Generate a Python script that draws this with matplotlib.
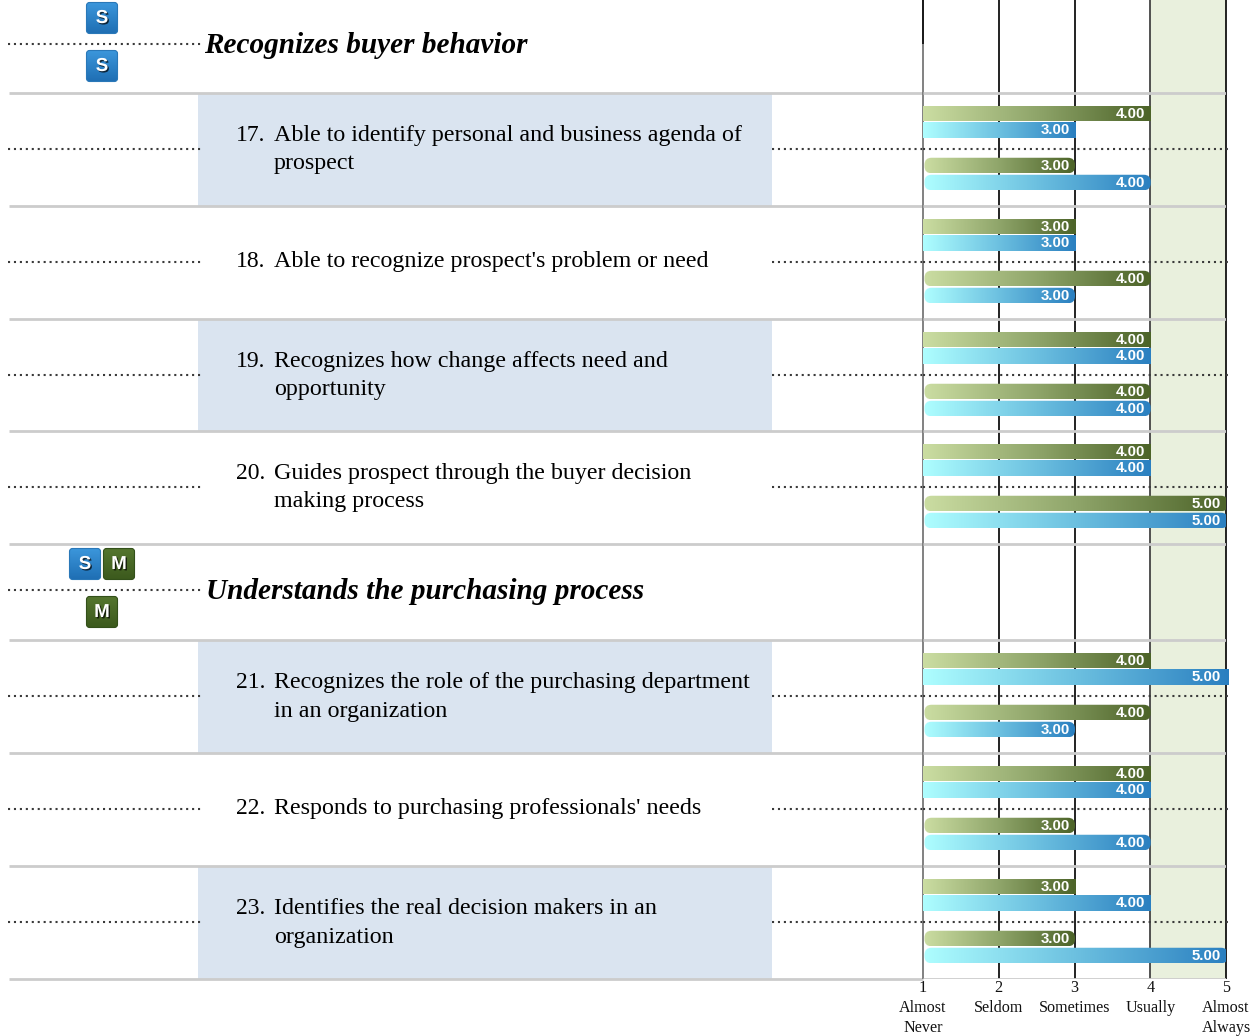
import numpy as np
import matplotlib
matplotlib.use('Agg')
from matplotlib import pyplot as plt
from matplotlib.colors import LinearSegmentedColormap
from matplotlib.patches import FancyBboxPatch, Rectangle
import matplotlib.patheffects as pe

# Data
questions = [
    "Able to identify personal and business agenda of\nprospect",
    "Able to recognize prospect's problem or need",
    "Recognizes how change affects need and\nopportunity",
    "Guides prospect through the buyer decision\nmaking process",
    "Recognizes the role of the purchasing department\nin an organization",
    "Responds to purchasing professionals' needs",
    "Identifies the real decision makers in an\norganization",
]
numbers = [17, 18, 19, 20, 21, 22, 23]
top_green = [4, 3, 4, 4, 4, 4, 3]
top_blue = [3, 3, 4, 4, 5, 4, 4]
bottom_green = [3, 4, 4, 5, 4, 3, 3]
bottom_blue = [4, 3, 4, 5, 3, 4, 5]
headers = ["Recognizes buyer behavior", "Understands the purchasing process"]
header_badges_top = [["S"], ["S", "M"]]
header_badges_bottom = [["S"], ["M"]]
tick_values = [1, 2, 3, 4, 5]
tick_labels = ["1\nAlmost\nNever", "2\nSeldom\n ", "3\nSometimes\n ", "4\nUsually\n ", "5\nAlmost\nAlways"]

W, H = 1260, 1036
SERIF = 'Liberation Serif'
fig = plt.figure(figsize=(W / 100, H / 100), dpi=100)

# pixel axes for the table part
ax = fig.add_axes([0, 0, 1, 1])
ax.set_xlim(0, W)
ax.set_ylim(H, 0)
ax.axis('off')

# score axes, x is the 1-5 scale, y stays in pixels
LEFT, RIGHT, BOTTOM = 923, 1226, 979
bx = fig.add_axes([LEFT / W, (H - BOTTOM) / H, (RIGHT - LEFT) / W, BOTTOM / H])
bx.patch.set_alpha(0)
unit = (RIGHT - LEFT) / 4.0

green_cmap = LinearSegmentedColormap.from_list('g', ['#cbdda2', '#8fa56a', '#4c6328'])
blue_cmap = LinearSegmentedColormap.from_list('b', ['#aefeff', '#6cc0e0', '#2a7fc0'])
grad = np.linspace(0, 1, 256).reshape(1, -1)

bx.axvspan(4, 5, color='#e9f0dd', zorder=0, lw=0)
for v in tick_values:
    c = '#777777' if v == 1 else ('#444444' if v == 4 else '#111111')
    bx.vlines(v, 0, BOTTOM, color=c, lw=1.3, zorder=1, clip_on=False)
bx.vlines(1, 0, 44, color='#111111', lw=1.3, zorder=1, clip_on=False)


def draw_bar(value, yc, cmap, rounded):
    h = 15.5
    x0 = 1.0 + (1.5 / unit if rounded else 0)
    x1 = value + ((2.0 if value == 5 else 0.5) / unit)
    im = bx.imshow(grad, cmap=cmap, extent=(x0, x1, yc + h / 2, yc - h / 2), aspect='auto',
                   zorder=4, interpolation='bilinear')
    if rounded:
        r = 7.0 / unit
        clip = FancyBboxPatch((x0 + r, yc - h / 2 + 7.0), x1 - x0 - 2 * r, h - 14.0,
                              boxstyle='round,pad=%f,rounding_size=%f' % (r, r),
                              mutation_aspect=unit, fc='none', ec='none')
    else:
        clip = Rectangle((x0, yc - h / 2), x1 - x0, h, fc='none', ec='none')
    clip.set_clip_on(False)
    bx.add_patch(clip)
    im.set_clip_path(clip)
    bx.text(value - 5.0 / unit, yc + 0.2, '%.2f' % value, color='white', ha='right', va='center',
            fontsize=10.8, fontweight='bold', family='Liberation Sans', zorder=5, clip_on=False)


def draw_badge(cx, cy, letter):
    s = 31
    cols = ['#3c97dc', '#1f6fb4'] if letter == 'S' else ['#55762f', '#3c5a1d']
    edge = '#2a78b8' if letter == 'S' else '#33501a'
    cm = LinearSegmentedColormap.from_list('x', cols)
    im = ax.imshow(np.linspace(0, 1, 64).reshape(-1, 1), cmap=cm, aspect='auto', zorder=4,
                   extent=(cx - s / 2, cx + s / 2, cy + s / 2, cy - s / 2))
    p = FancyBboxPatch((cx - s / 2 + 3, cy - s / 2 + 3), s - 6, s - 6, boxstyle='round,pad=3,rounding_size=3',
                       fc='none', ec=edge, lw=0.8, zorder=4.5)
    ax.add_patch(p)
    im.set_clip_path(p)
    ax.text(cx, cy + 0.5, letter, color='white', ha='center', va='center', fontsize=13.5, fontweight='bold',
            family='Liberation Sans', zorder=5,
            path_effects=[pe.SimplePatchShadow(offset=(1, -1), shadow_rgbFace='k', alpha=0.7), pe.Normal()])


def draw_dots(y, with_right):
    style = [(0, (1.0, 1.85))]
    ax.hlines(y, 8, 201, color='#3a3a3a', lw=1.5, linestyles=style, zorder=3)
    if with_right:
        ax.hlines(y, 772, LEFT, color='#3a3a3a', lw=1.5, linestyles=style, zorder=3)
        bx.hlines(y, 1, 5.03, color='#3a3a3a', lw=1.5, linestyles=style, zorder=3, clip_on=False)


def draw_sep(y):
    ax.hlines(y, 9, LEFT, color='#cccccc', lw=2.0, zorder=2)
    bx.hlines(y, 1, 5, color='#cccccc', lw=2.0, zorder=2)


# header blocks
header_dots = [44, 590]
for i, title in enumerate(headers):
    yd = header_dots[i]
    draw_dots(yd, False)
    ax.text(204.5 + (i * 1), yd + 9, title, fontsize=21.1, family=SERIF, fontweight='bold', style='italic',
            va='baseline', ha='left')
    top = header_badges_top[i]
    cxs = [102] if len(top) == 1 else [85, 119]
    for cx, letter in zip(cxs, top):
        draw_badge(cx, yd - 26, letter)
    draw_badge(102, yd + 22, header_badges_bottom[i][0])

# question rows
row_tops = [93, 206, 319, 431, 640, 753, 866]
for i, q in enumerate(questions):
    t = row_tops[i]
    if i % 2 == 0:
        ax.add_patch(Rectangle((198, t), 574, 113, fc='#dae4f0', ec='none', zorder=1))
    draw_dots(t + 56, True)
    lines = q.split('\n')
    y0 = t + 48 if len(lines) == 2 else t + 61
    ax.text(265.5, y0, '%d.' % numbers[i], fontsize=17.0, family=SERIF, ha='right', va='baseline', zorder=6)
    for k, line in enumerate(lines):
        ax.text(274, y0 + k * 28.5, line, fontsize=17.3, family=SERIF, ha='left', va='baseline', zorder=6)
    draw_bar(top_green[i], t + 20.5, green_cmap, False)
    draw_bar(top_blue[i], t + 37.2, blue_cmap, False)
    draw_bar(bottom_green[i], t + 72.5, green_cmap, True)
    draw_bar(bottom_blue[i], t + 89.5, blue_cmap, True)

for y in [93, 206, 319, 431, 544, 640, 753, 866, 979]:
    draw_sep(y)

bx.set_xlim(1, 5)
bx.set_ylim(BOTTOM, 0)
bx.set_yticks([])
bx.set_xticks(tick_values)
bx.set_xticklabels(tick_labels, fontsize=11.6, family=SERIF, linespacing=1.3)
bx.tick_params(axis='x', length=0, pad=1, colors='#111111')
for s in bx.spines.values():
    s.set_visible(False)
ax.set_xlim(0, W)
ax.set_ylim(H, 0)

plt.savefig('out.png', dpi=100)
